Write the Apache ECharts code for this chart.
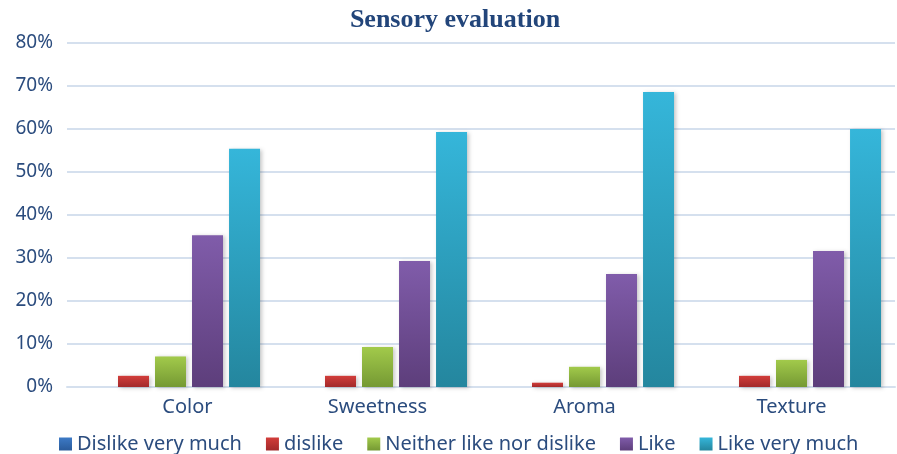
<!DOCTYPE html>
<html>
<head>
<meta charset="utf-8">
<script src="https://cdn.jsdelivr.net/npm/echarts@6/dist/echarts.min.js"></script>
<style>
  html, body { margin: 0; padding: 0; background: #fff; }
  #chart { width: 897px; height: 454px; }
</style>
</head>
<body>
<div id="chart"></div>
<script>
const categories = ["Color", "Sweetness", "Aroma", "Texture"];
const seriesNames = ["Dislike very much", "dislike", "Neither like nor dislike", "Like", "Like very much"];
const dislikeVeryMuch = [0, 0, 0, 0];
const dislike = [2.6, 2.6, 1.0, 2.6];
const neither = [7.1, 9.3, 4.7, 6.3];
const like = [35.3, 29.3, 26.3, 31.6];
const likeVeryMuch = [55.4, 59.3, 68.6, 60.0];
const yTicks = [0, 10, 20, 30, 40, 50, 60, 70, 80];

const textBlue = "#2b4c7e";
const font = "Noto Sans";

// top / bottom colours of each bar gradient
const barColors = [
  ["#3d7ac6", "#2a5b9b"],
  ["#d23d3a", "#a2292a"],
  ["#a2ca4b", "#759933"],
  ["#805caa", "#5d3e7b"],
  ["#35b6da", "#24869e"]
];

const values = [dislikeVeryMuch, dislike, neither, like, likeVeryMuch];

const chart = echarts.init(document.getElementById("chart"));

const series = seriesNames.map((name, i) => ({
  name: name,
  type: "bar",
  data: values[i],
  barWidth: 31,
  barGap: "19.4%",
  itemStyle: {
    color: new echarts.graphic.LinearGradient(0, 0, 0, 1, [
      { offset: 0, color: barColors[i][0] },
      { offset: 1, color: barColors[i][1] }
    ]),
    shadowBlur: 4,
    shadowOffsetX: 2,
    shadowOffsetY: 1,
    shadowColor: "rgba(0,0,0,0.22)"
  }
}));

chart.setOption({
  animation: false,
  title: {
    text: "Sensory evaluation",
    left: 455,
    textAlign: "center",
    top: 7,
    padding: 0,
    textStyle: {
      fontFamily: "Liberation Serif",
      fontWeight: "bold",
      fontSize: 26,
      color: "#22457a"
    }
  },
  legend: {
    data: seriesNames,
    left: 59,
    top: 434,
    icon: "rect",
    itemWidth: 13,
    itemHeight: 13,
    itemGap: 24,
    padding: 0,
    textStyle: { fontFamily: font, fontSize: 20, color: textBlue }
  },
  grid: { left: 67, right: 2, top: 43, bottom: 67 },
  xAxis: {
    type: "category",
    data: categories.map((c, i) => i === 0
      ? { value: c, textStyle: { padding: [0, 0, 0, 34] } }
      : c),
    axisLine: { lineStyle: { color: "#d5e0ee", width: 2 } },
    axisTick: { show: false },
    axisLabel: { fontFamily: font, fontSize: 20, color: textBlue, margin: 10 }
  },
  yAxis: {
    type: "value",
    min: yTicks[0],
    max: yTicks[yTicks.length - 1],
    interval: 10,
    axisLine: { show: false },
    axisTick: { show: false },
    splitLine: { lineStyle: { color: "#d5e0ee", width: 2 } },
    axisLabel: {
      fontFamily: font,
      fontSize: 19,
      color: textBlue,
      margin: 14,
      formatter: v => v + "%"
    }
  },
  series: series
});
</script>
</body>
</html>
